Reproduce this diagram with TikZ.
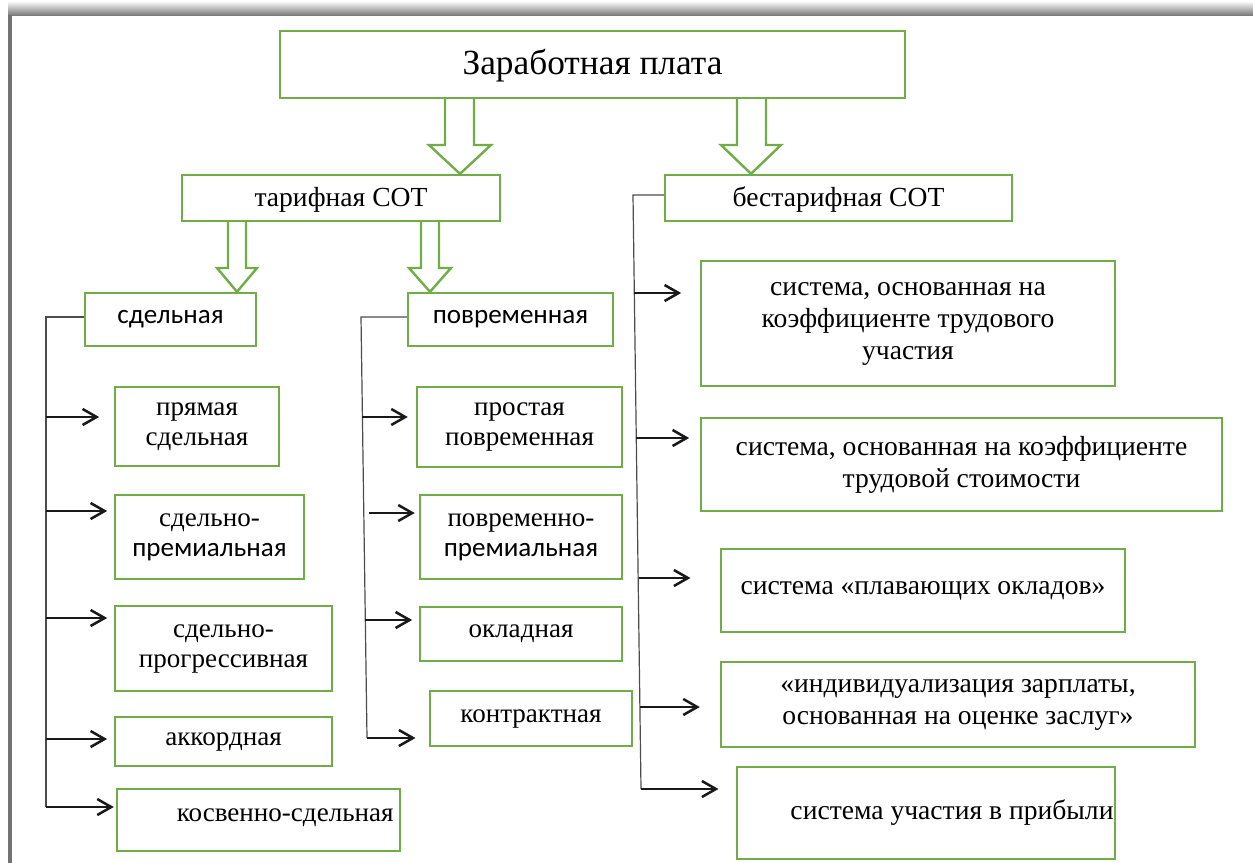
\documentclass[tikz,border=0pt]{standalone}
\usepackage{fontspec}
\setmainfont{Liberation Serif}
\newfontfamily\calfont{Carlito}
\usetikzlibrary{fit,arrows.meta}
\definecolor{boxgreen}{RGB}{112,173,71}
\newcommand\sertext{\fontsize{20.3}{22.5}\selectfont}
\newcommand\caltext{\calfont\fontsize{20.3}{22.5}\selectfont}
\begin{document}
\begin{tikzpicture}[x=0.75pt,y=-0.75pt,
  box/.style={draw=boxgreen, line width=1.8pt, inner sep=0pt, fill=white},
  txt/.style={inner sep=0pt, align=center},
  tnr/.style={txt, font=\fontsize{20.7}{24}\selectfont},
  ser/.style={txt, font=\sertext},
  cal/.style={txt, font=\caltext},
  link/.style={draw=black!70, line width=0.9pt},
  feed/.style={draw=black!90, line width=1.9pt, -{Straight Barb[length=10.5pt,width=12pt]}},
  hollow/.style={draw=boxgreen, line width=1.8pt, fill=white, line join=miter},
]
\useasboundingbox (0,0) rectangle (1253,863);
% page frame with its soft shadow
\shade[top color=white, bottom color=black!55] (8,1) rectangle (1253,16);
\fill[black!55] (8,15) rectangle (12,863);

% top level
\node[box, fit={(280,31) (905,98)}] (title) {};
\node[txt, font=\fontsize{26.5}{30}\selectfont] (title-t) at ([yshift=-1pt]title.center) {Заработная плата};
\node[box, fit={(182,175) (500,221)}] (tar) {};
\node[tnr] (tar-t) at ([yshift=-1.2pt]tar.center) {тарифная СОТ};
\node[box, fit={(665,175) (1012,221)}] (bes) {};
\node[tnr] (bes-t) at ([yshift=-1.2pt]bes.center) {бестарифная СОТ};

% block arrows
\draw[hollow] (445,0 |- title.south) -- (445,145) -- (429,145) -- (460,0 |- tar.north)
  -- (491,145) -- (474,145) -- (474,0 |- title.south);
\draw[hollow] (737,0 |- title.south) -- (737,145) -- (721,145) -- (751,0 |- bes.north)
  -- (781,145) -- (766,145) -- (766,0 |- title.south);

% second level
\node[box, fit={(85,293) (256,346)}] (sdel) {};
\node[cal] (sdel-t) at (sdel.center) {сдельная};
\node[box, fit={(408,293) (613,346)}] (povr) {};
\node[cal] (povr-t) at (povr.center) {повременная};

\draw[hollow] (228,0 |- tar.south) -- (228,268) -- (217,268) -- (237,0 |- sdel.north)
  -- (257,268) -- (246,268) -- (246,0 |- tar.south);
\draw[hollow] (421,0 |- tar.south) -- (421,268) -- (409,268) -- (430,0 |- povr.north)
  -- (451,268) -- (439,268) -- (439,0 |- tar.south);

% piece-rate forms
\node[box, fit={(115,387) (279,466)}] (s1) {};
\node[ser] (s1-t) at (s1.center) {прямая\\сдельная};
\node[box, fit={(115,495) (304,579)}] (s2) {};
\node[ser] (s2-t) at (s2.center) {сдельно-\\\caltext премиальная};
\node[box, fit={(115,606) (332,691)}] (s3) {};
\node[ser] (s3-t) at (s3.center) {сдельно-\\прогрессивная};
\node[box, fit={(115,717) (332,766)}] (s4) {};
\node[ser] (s4-t) at (s4.center) {аккордная};
\node[box, fit={(117,789) (400,851)}] (s5) {};
\node[ser] (s5-t) at ([xshift=20pt,yshift=1.5pt]s5.center) {косвенно-сдельная};

% time-rate forms
\node[box, fit={(417,387) (622,467)}] (p1) {};
\node[ser] (p1-t) at (p1.center) {простая\\повременная};
\node[box, fit={(420,495) (622,579)}] (p2) {};
\node[ser] (p2-t) at (p2.center) {повременно-\\\caltext премиальная};
\node[box, fit={(420,607) (622,661)}] (p3) {};
\node[ser] (p3-t) at (p3.center) {окладная};
\node[box, fit={(430,691) (632,746)}] (p4) {};
\node[ser] (p4-t) at (p4.center) {контрактная};

% non-tariff systems
\node[box, fit={(701,261) (1115,386)}] (b1) {};
\node[tnr] (b1-t) at (b1.center) {система, основанная на\\коэффициенте трудового\\участия};
\node[box, fit={(701,418) (1222,511)}] (b2) {};
\node[tnr] (b2-t) at (b2.center) {система, основанная на коэффициенте\\трудовой стоимости};
\node[box, fit={(721,549) (1125,632)}] (b3) {};
\node[tnr] (b3-t) at (b3.center) {система «плавающих окладов»};
\node[box, fit={(721,662) (1195,747)}] (b4) {};
\node[tnr] (b4-t) at (b4.center) {«индивидуализация зарплаты,\\основанная на оценке заслуг»};
\node[box, fit={(737,767) (1115,859)}] (b5) {};
\node[tnr] (b5-t) at ([xshift=19.5pt]b5.center) {система участия в прибыли};

% spines
\coordinate (Ltop) at (46,317);
\coordinate (Lbot) at (46,807);
\coordinate (Mtop) at (361,317);
\coordinate (Mbot) at (367,738);
\coordinate (Rtop) at (633,195);
\coordinate (Rbot) at (641,789);
\draw[link] (sdel.west |- Ltop) -- (Ltop) -- (Lbot);
\draw[link] (povr.west |- Mtop) -- (Mtop) -- (Mbot);
\draw[link] (bes.west |- Rtop) -- (Rtop) -- (Rbot);

% feeds to the piece-rate forms
\draw[feed, shorten >=11pt] (46,417) -- (s1.west |- 0,417);
\draw[feed, shorten >=5pt] (46,511) -- (s2.west |- 0,511);
\draw[feed, shorten >=5pt] (46,618) -- (s3.west |- 0,618);
\draw[feed, shorten >=5pt] (46,739) -- (s4.west |- 0,739);
\draw[feed, shorten >=1.5pt] (Lbot) -- (s5.west |- Lbot);

% feeds to the time-rate forms
\draw[feed, shorten >=6pt] (362,417) -- (p1.west |- 0,417);
\draw[feed, shorten >=3pt] (369,513) -- (p2.west |- 0,513);
\draw[feed, shorten >=5pt] (365,620) -- (p3.west |- 0,620);
\draw[feed, shorten >=10pt] (Mbot) -- (p4.west |- Mbot);

% feeds to the non-tariff systems
\draw[feed, shorten >=14pt] (634,293) -- (b1.west |- 0,293);
\draw[feed, shorten >=8pt] (636,438) -- (b2.west |- 0,438);
\draw[feed, shorten >=22pt] (639,578) -- (b3.west |- 0,578);
\draw[feed, shorten >=15pt] (640,707) -- (b4.west |- 0,707);
\draw[feed, shorten >=13pt] (Rbot) -- (b5.west |- Rbot);
\end{tikzpicture}
\end{document}
